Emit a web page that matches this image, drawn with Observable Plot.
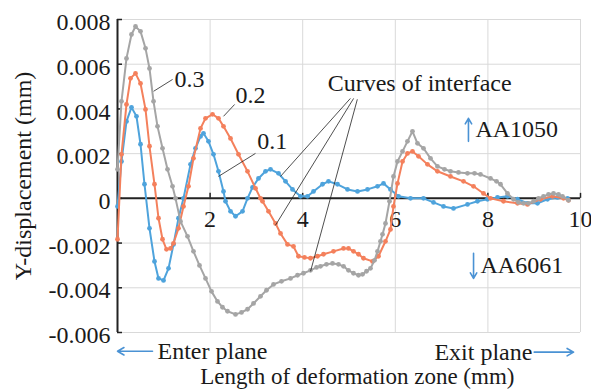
<!DOCTYPE html>
<html>
<head>
<meta charset="utf-8">
<script src="https://cdn.jsdelivr.net/npm/d3@7"></script>
<script src="https://cdn.jsdelivr.net/npm/@observablehq/plot@0.6"></script>
<style>
  html, body { margin: 0; padding: 0; background: #fff; }
  svg text { font-family: "Liberation Serif", "Times New Roman", serif !important; }
</style>
</head>
<body>
<div id="chart"></div>
<script>
// ---- Data ----
const series01 = [
  [0,-0.00036],[0.086,0.00165],[0.194,0.00344],[0.302,0.00407],[0.410,0.00367],[0.497,0.00242],
  [0.583,0.00063],[0.691,-0.00134],[0.799,-0.00282],[0.886,-0.00358],[0.994,-0.00367],[1.102,-0.00313],
  [1.210,-0.00206],[1.317,-0.00089],[1.425,0],[1.577,0.00152],[1.685,0.00224],[1.793,0.00277],
  [1.857,0.00291],[1.965,0.00255],[2.073,0.00197],[2.181,0.00121],[2.289,0.00031],[2.333,-0.00013],
  [2.441,-0.00058],[2.549,-0.00080],[2.700,-0.00058],[2.808,0],[2.916,0.00049],[3.045,0.00089],
  [3.197,0.00121],[3.305,0.00130],[3.477,0.00112],[3.629,0.00076],[3.780,0.00040],[3.953,0.00009],
  [4.104,0.00009],[4.233,0.00031],[4.428,0.00063],[4.557,0.00076],[4.752,0.00063],[4.968,0.00040],
  [5.184,0.00031],[5.400,0.00040],[5.616,0.00054],[5.745,0.00067],[5.896,0.00040],[6.069,0.00009],
  [6.328,0],[6.609,0],[6.825,-0.00018],[7.041,-0.00036],[7.257,-0.00045],[7.559,-0.00027],
  [7.775,-0.00013],[7.991,-0.00004],[8.207,0.00004],[8.423,0.00009],[8.639,-0.00004],[8.855,-0.00022],
  [9.071,-0.00022],[9.287,-0.00004],[9.503,0.00004],[9.719,0]
];
const series02 = [
  [0,-0.00183],[0.086,0.00197],[0.194,0.00420],[0.281,0.00537],[0.389,0.00559],[0.497,0.00514],
  [0.605,0.00398],[0.691,0.00233],[0.799,0.00063],[0.886,-0.00089],[0.972,-0.00183],[1.058,-0.00228],
  [1.145,-0.00224],[1.210,-0.00201],[1.317,-0.00134],[1.425,-0.00036],[1.533,0.00054],[1.641,0.00179],
  [1.793,0.00313],[1.901,0.00358],[2.052,0.00376],[2.181,0.00358],[2.289,0.00322],[2.441,0.00268],
  [2.613,0.00197],[2.808,0.00121],[2.981,0.00045],[3.089,0],[3.132,-0.00013],[3.261,-0.00058],
  [3.413,-0.00112],[3.521,-0.00157],[3.672,-0.00206],[3.801,-0.00215],[3.909,-0.00259],[4.039,-0.00264],
  [4.168,-0.00268],[4.320,-0.00259],[4.449,-0.00250],[4.665,-0.00237],[4.881,-0.00224],[4.989,-0.00224],
  [5.097,-0.00237],[5.205,-0.00250],[5.313,-0.00268],[5.508,-0.00282],[5.637,-0.00259],[5.788,-0.00192],
  [5.896,-0.00139],[5.961,-0.00036],[6.048,0.00067],[6.156,0.00165],[6.263,0.00201],[6.371,0.00210],
  [6.501,0.00188],[6.695,0.00152],[6.911,0.00121],[7.192,0.00098],[7.473,0.00076],[7.689,0.00054],
  [7.905,0.00022],[8.056,0],[8.337,-0.00013],[8.639,-0.00022],[8.855,-0.00027],[9.136,-0.00004],
  [9.395,0.00009],[9.633,0],[9.741,-0.00009]
];
const series03 = [
  [0,0.00130],[0.086,0.00434],[0.194,0.00626],[0.302,0.00733],[0.389,0.00769],[0.497,0.00747],
  [0.605,0.00671],[0.691,0.00581],[0.778,0.00434],[0.864,0.00322],[0.972,0.00224],[1.080,0.00130],
  [1.188,0.00054],[1.253,0],[1.361,-0.00103],[1.512,-0.00170],[1.641,-0.00237],[1.771,-0.00300],
  [1.901,-0.00358],[2.030,-0.00416],[2.160,-0.00461],[2.268,-0.00487],[2.376,-0.00505],[2.549,-0.00519],
  [2.678,-0.00510],[2.808,-0.00496],[2.937,-0.00470],[3.089,-0.00438],[3.218,-0.00411],[3.369,-0.00385],
  [3.542,-0.00371],[3.737,-0.00358],[3.888,-0.00344],[4.017,-0.00335],[4.168,-0.00322],[4.298,-0.00309],
  [4.384,-0.00304],[4.514,-0.00295],[4.644,-0.00291],[4.773,-0.00295],[4.881,-0.00304],[4.989,-0.00322],
  [5.097,-0.00335],[5.205,-0.00344],[5.292,-0.00340],[5.378,-0.00326],[5.464,-0.00313],[5.551,-0.00277],
  [5.616,-0.00237],[5.680,-0.00192],[5.724,-0.00161],[5.788,-0.00112],[5.875,-0.00013],[5.961,0.00098],
  [6.048,0.00165],[6.156,0.00210],[6.263,0.00255],[6.371,0.00300],[6.479,0.00246],[6.609,0.00224],
  [6.760,0.00179],[6.911,0.00143],[7.063,0.00130],[7.192,0.00121],[7.365,0.00116],[7.559,0.00112],
  [7.711,0.00112],[7.840,0.00107],[8.056,0.00089],[8.186,0.00076],[8.272,0.00063],[8.423,0.00022],
  [8.553,-0.00004],[8.661,-0.00018],[8.769,-0.00022],[8.877,-0.00022],[8.985,-0.00013],[9.093,0],
  [9.201,0.00009],[9.309,0.00018],[9.417,0.00022],[9.525,0.00018],[9.611,0.00009],[9.741,-0.00009]
];

const xTicks = [2, 4, 6, 8, 10];
const xTickLabels = ["2", "4", "6", "8", "10"];
const yTicks = [-0.006, -0.004, -0.002, 0, 0.002, 0.004, 0.006, 0.008];
const yTickLabels = ["-0.006", "-0.004", "-0.002", "0", "0.002", "0.004", "0.006", "0.008"];

// Curve labels with leader lines (data units)
const curveLabels = [
  {text: "0.3", x: 1.23, y: 0.00532, lx1: 0.78, ly1: 0.00479, lx2: 1.19, ly2: 0.00532},
  {text: "0.2", x: 2.55, y: 0.00461, lx1: 2.29, ly1: 0.00367, lx2: 2.53, ly2: 0.00420},
  {text: "0.1", x: 3.02, y: 0.00255, lx1: 2.18, ly1: 0.00098, lx2: 2.98, ly2: 0.00201}
];
const interfaceLabel = {text: "Curves of interface", x: 4.54, y: 0.00514};
const interfaceLeaders = [
  {x1: 5.03, y1: 0.00447, x2: 3.52, y2: 0.00098},
  {x1: 5.10, y1: 0.00447, x2: 3.41, y2: -0.00121},
  {x1: 5.18, y1: 0.00443, x2: 4.17, y2: -0.00326}
];
const materialLabels = [
  {text: "AA1050", x: 7.73, y: 0.00309, ax: 7.58, ay1: 0.00255, ay2: 0.00358},
  {text: "AA6061", x: 7.84, y: -0.00300, ax: 7.69, ay1: -0.00246, ay2: -0.00358}
];
const enterLabel = {text: "Enter plane", x: 0.864, y: -0.00684, ax1: 0.756, ax2: 0};
const exitLabel = {text: "Exit plane", x: 8.96, y: -0.00688, ax1: 9.00, ax2: 9.85};
const xTitle = {text: "Length of deformation zone (mm)", x: 5.18, y: -0.00796};
const yTitle = "Y-displacement (mm)";

const C1 = "#4ea3dc", C2 = "#f4805c", C3 = "#a5a5a5", ARROW = "#4a92d4";
const FONT = "Liberation Serif";
const TXT = {fontSize: 24, fontFamily: FONT, fill: "#1a1a1a"};

const tickLenX = 5 / 46.3;   // 5px inward tick on the y axis
const tickLenY = 5 / 22360;  // 5px upward tick on the zero line

const chart = Plot.plot({
  width: 591,
  height: 391,
  marginLeft: 117,
  marginRight: 11,
  marginTop: 19,
  marginBottom: 59,
  x: {domain: [0, 10], axis: null},
  y: {domain: [-0.006, 0.008], axis: null},
  style: {fontFamily: FONT, fontSize: "24px", color: "#1a1a1a", background: "#fff", overflow: "visible"},
  marks: [
    Plot.gridY(yTicks, {stroke: "#d9d9d9", strokeOpacity: 1, strokeWidth: 1}),
    Plot.gridX(xTicks, {stroke: "#d9d9d9", strokeOpacity: 1, strokeWidth: 1}),
    Plot.ruleY([0], {stroke: "#222", strokeWidth: 2}),
    Plot.ruleX([0], {stroke: "#222", strokeWidth: 2}),
    Plot.ruleY(yTicks, {x1: 0, x2: tickLenX, stroke: "#222", strokeWidth: 1.5}),
    Plot.ruleX(xTicks, {y1: 0, y2: tickLenY, stroke: "#222", strokeWidth: 1.5}),
    Plot.text(yTicks, {x: 0, y: d => d, text: (d, i) => yTickLabels[i], textAnchor: "end", dx: -7, dy: 3, ...TXT}),
    Plot.text(xTicks, {x: d => d, y: 0, text: (d, i) => xTickLabels[i], dy: 21, ...TXT}),

    // series
    Plot.line(series01, {x: d => d[0], y: d => d[1], stroke: C1, strokeWidth: 2}),
    Plot.dot(series01, {x: d => d[0], y: d => d[1], r: 2.4, fill: C1}),
    Plot.line(series02, {x: d => d[0], y: d => d[1], stroke: C2, strokeWidth: 2}),
    Plot.dot(series02, {x: d => d[0], y: d => d[1], r: 2.4, fill: C2}),
    Plot.line(series03, {x: d => d[0], y: d => d[1], stroke: C3, strokeWidth: 2}),
    Plot.dot(series03, {x: d => d[0], y: d => d[1], r: 2.4, fill: C3}),

    // curve labels
    Plot.link(curveLabels, {x1: "lx1", y1: "ly1", x2: "lx2", y2: "ly2", stroke: "#222", strokeWidth: 0.8}),
    Plot.text(curveLabels, {x: "x", y: "y", text: "text", textAnchor: "start", ...TXT}),
    Plot.link(interfaceLeaders, {x1: "x1", y1: "y1", x2: "x2", y2: "y2", stroke: "#222", strokeWidth: 0.8}),
    Plot.text([interfaceLabel], {x: "x", y: "y", text: "text", textAnchor: "start", ...TXT}),

    // material labels
    Plot.arrow(materialLabels, {x1: "ax", x2: "ax", y1: "ay1", y2: "ay2", stroke: ARROW, strokeWidth: 1.6, headLength: 6}),
    Plot.text(materialLabels, {x: "x", y: "y", text: "text", textAnchor: "start", ...TXT}),

    // plane labels under the plot
    Plot.arrow([enterLabel, exitLabel], {x1: "ax1", x2: "ax2", y1: "y", y2: "y", stroke: ARROW, strokeWidth: 1.6, headLength: 7}),
    Plot.text([enterLabel], {x: "x", y: "y", text: "text", textAnchor: "start", ...TXT}),
    Plot.text([exitLabel], {x: "x", y: "y", text: "text", textAnchor: "end", ...TXT}),
    Plot.text([xTitle], {x: "x", y: "y", text: "text", ...TXT, fontSize: 23}),
    Plot.text([yTitle], {text: d => d, frameAnchor: "left", textAnchor: "middle", rotate: -90, dx: -94, ...TXT})
  ]
});
document.getElementById("chart").appendChild(chart);
</script>
</body>
</html>
